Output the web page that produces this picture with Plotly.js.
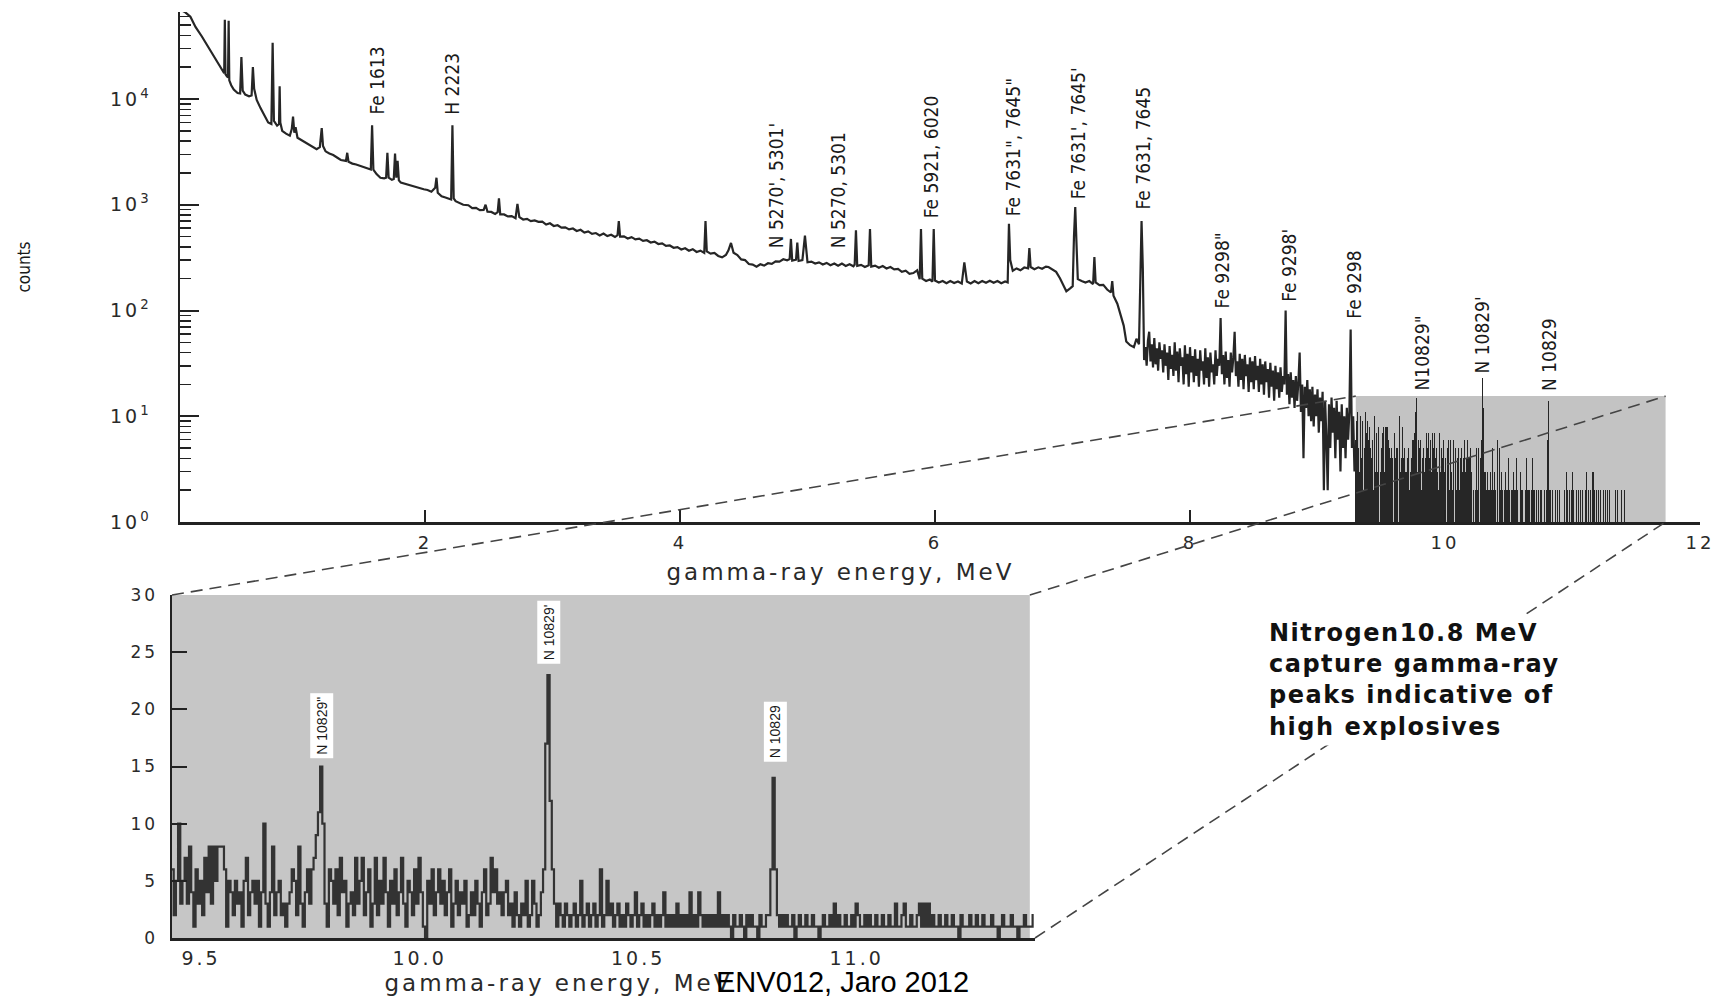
<!DOCTYPE html>
<html><head><meta charset="utf-8">
<script src="https://cdn.plot.ly/plotly-3.0.1.min.js"></script>
<style>
html,body{margin:0;padding:0;background:#fff;}
#chart{width:1735px;height:998px;}
.xtick text,.x2tick text,.ytick text,.y2tick text{letter-spacing:3px;}
g.annotation[data-index="0"] text{letter-spacing:1.5px;}
g.annotation[data-index="1"] text,g.annotation[data-index="2"] text{letter-spacing:3px;}
</style>
</head><body><div id="chart"></div>
<script>
// ---------- DATA ----------
// main spectrum, 0.08 - 7.64 MeV (energy MeV, counts)
const spectrumE = [0.08,0.12,0.16,0.20,0.25,0.30,0.35,0.40,0.42,0.425,0.43,0.435,0.445,0.455,0.46,0.465,0.48,0.50,0.53,0.55,0.56,0.57,0.59,0.62,0.64,0.65,0.66,0.68,0.71,0.74,0.77,0.795,0.805,0.815,0.84,0.855,0.86,0.865,0.88,0.91,0.94,0.955,0.965,0.975,0.985,1.00,1.03,1.06,1.09,1.12,1.15,1.175,1.19,1.20,1.22,1.25,1.28,1.31,1.34,1.38,1.39,1.40,1.43,1.46,1.49,1.52,1.555,1.575,1.585,1.595,1.62,1.65,1.68,1.695,1.705,1.715,1.74,1.755,1.765,1.775,1.785,1.795,1.81,1.84,1.87,1.90,1.93,1.96,1.99,2.02,2.05,2.08,2.09,2.10,2.13,2.16,2.19,2.205,2.215,2.225,2.24,2.27,2.30,
2.34,2.37,2.40,2.43,2.46,2.475,2.49,2.52,2.55,2.57,2.58,2.59,2.62,2.65,2.68,2.71,2.725,2.74,2.77,2.80,2.83,2.86,2.89,2.92,2.95,2.98,3.01,3.04,3.07,3.10,3.13,3.16,3.19,3.22,3.25,3.28,3.31,3.34,3.37,3.40,3.43,3.46,3.49,3.51,3.52,3.53,3.56,3.59,3.62,3.65,3.68,3.71,3.74,3.77,3.80,3.83,3.86,3.89,3.92,3.95,3.98,4.01,4.04,4.07,4.10,4.13,4.16,4.19,4.20,4.21,4.24,4.27,4.30,4.33,4.36,4.38,4.40,4.42,4.45,4.48,4.51,4.54,4.57,4.60,4.63,4.66,4.69,4.72,4.75,4.78,4.81,4.84,4.86,4.87,4.88,4.91,4.92,4.93,4.96,4.98,5.00,5.03,5.06,5.09,5.12,5.15,5.18,5.21,5.24,5.27,5.30,5.33,5.36,5.37,5.38,5.39,5.42,5.45,5.48,5.49,5.50,5.53,5.56,5.59,5.62,5.65,5.68,5.71,5.74,5.77,5.80,5.83,5.86,5.88,5.89,5.90,5.93,5.96,5.98,5.99,6.00,6.03,6.06,6.09,6.12,6.15,6.18,6.21,6.23,6.25,6.28,6.31,6.34,6.37,6.40,6.43,6.46,6.49,6.52,6.55,6.57,6.58,6.59,6.61,6.64,6.67,6.70,6.73,6.74,6.75,6.78,6.81,6.84,6.87,6.89,6.92,6.95,6.98,7.01,7.03,7.06,7.08,7.09,7.10,7.11,7.12,7.15,7.18,7.21,7.24,7.25,7.26,7.29,7.32,7.35,7.38,7.39,7.40,7.43,7.46,7.48,7.50,7.53,7.56,7.58,7.60,7.61,7.62,7.63,7.64];
const spectrumCounts = [70000,66000,60000,48000,39000,31000,24500,19500,17800,17500,56000,17200,16500,16000,55000,15000,13500,12300,11400,11300,25000,12000,11000,10600,10800,20000,12500,9800,8200,7000,6000,5800,34000,6200,5600,5800,13200,6000,5000,4700,4500,5200,6800,4800,5400,4300,4100,3900,3700,3550,3350,3500,5300,3600,3200,3050,2950,2800,2650,2600,3100,2550,2450,2400,2330,2250,2200,2150,5650,2150,1950,1800,1780,1800,3100,1800,1720,1750,3050,1800,2600,1700,1620,1580,1540,1500,1460,1440,1400,1380,1330,1450,1800,1300,1200,1170,1140,1120,5650,1150,1080,1040,1000,
990,930,935,890,895,1000,860,855,820,850,1150,810,810,775,780,745,1020,765,725,735,700,712,690,692,650,668,630,640,608,612,585,596,565,580,545,560,530,540,512,535,505,520,495,515,700,500,502,480,494,470,478,455,462,440,448,425,432,408,412,392,398,378,388,368,380,358,368,350,700,362,345,350,328,318,335,370,435,352,335,304,300,275,272,260,274,266,280,276,292,290,305,298,306,475,296,302,440,294,300,510,286,290,278,285,272,282,268,278,265,278,264,274,262,272,575,264,270,258,268,590,260,266,254,263,250,258,245,248,232,238,222,226,240,198,590,200,190,196,188,590,192,184,190,181,190,182,188,180,285,188,180,190,181,190,183,191,183,190,181,188,184,660,300,238,250,240,255,250,390,258,246,256,248,260,258,245,232,202,172,152,162,170,500,950,420,198,190,184,190,178,320,184,174,175,158,148,190,138,116,88,72,51,47,45,54,48,300,700,250,34];
// noisy tail, channels from 7.65 MeV every 0.01 MeV
const tailStart = 7.65, tailStep = 0.01;
const tailCounts = [45,30,52,63,33,48,29,55,31,44, 27,50,35,42,26,48,30,40,22,46, 28,38,24,50,27,41,21,44,30,36, 20,47,25,39,19,45,26,37,21,43,
 24,35,19,42,27,33,20,44,23,36, 19,40,26,31,20,42,24,35,30,85, 25,38,20,41,23,34,19,40,26,36, 63,24,33,19,39,22,35,18,38,24,
 31,17,36,21,33,18,37,22,30,17, 35,20,31,16,33,21,28,15,32,19, 27,14,30,18,26,15,29,17,24,20, 100,16,25,13,26,15,22,12,24,14,
 21,40,11,20,4,19,12,22,10,18, 9,19,8,16,10,18,7,15,9,17, 2,14,6,2,13,5,15,7,12,4, 14,6,11,3,13,5,10,4,12,6, 11,66,5,10,3];
// zoomed region, channels from 9.300 MeV every 0.005 MeV
const zoomStart = 9.30, zoomStep = 0.005;
const zoomCounts = [6,9,4,11,5,8,3,7,10,4,6,9,2,8,5,11,4,7,3,9,
 6,2,8,5,10,4,6,6,2,5,10,3,5,7,3,8,4,1,6,3,
 5,2,7,4,8,3,8,5,8,8,8,6,1,5,4,2,5,3,4,1,
 5,7,2,4,5,3,5,1,4,10,3,1,4,8,2,4,5,2,3,1,
 3,4,6,5,2,8,3,1,4,6,3,6,7,9,11,15,10,3,1,6,
 5,3,6,2,7,4,5,1,3,4,2,7,3,5,7,2,4,6,1,3,
 7,2,5,3,7,4,1,5,3,6,2,4,7,3,1,5,4,2,6,3,
 7,4,1,0,5,3,6,2,4,6,3,5,2,4,6,1,3,5,2,4,
 3,5,1,2,4,2,5,3,1,4,6,2,3,7,4,6,3,4,2,4,
 5,2,3,1,4,2,1,3,2,5,1,2,5,3,1,2,4,6,17,23,
 12,6,3,1,3,2,1,3,2,1,2,3,1,2,5,1,2,3,1,2,
 3,1,2,6,1,2,5,2,3,1,2,3,1,2,1,3,2,1,2,4,
 1,2,3,1,2,1,2,3,1,2,1,2,4,1,2,1,2,1,3,1,
 2,1,2,1,4,1,2,1,4,2,1,2,1,2,1,2,1,4,1,2,
 1,2,1,0,2,1,1,2,1,0,2,1,2,1,1,0,2,1,1,2,
 2,6,14,6,2,1,2,1,2,1,1,2,0,1,2,1,1,2,1,1,
 2,1,1,0,1,2,1,1,2,1,3,1,2,1,1,2,1,1,2,1,
 3,2,1,1,2,1,2,1,1,2,1,1,2,1,1,2,1,1,3,1,
 1,2,3,1,1,2,1,1,2,3,1,3,1,3,1,2,1,1,2,1,
 1,2,1,1,2,1,1,0,2,1,1,1,2,1,1,2,1,1,2,1,
 1,1,2,1,1,0,1,2,1,1,1,2,1,1,0,1,1,2,1,1,
 1,2];
// peak labels
const mainLabelText = ['Fe 1613','H 2223',"N 5270', 5301'",'N 5270, 5301','Fe 5921, 6020','Fe 7631", 7645"',"Fe 7631', 7645'",'Fe 7631, 7645','Fe 9298"',"Fe 9298'",'Fe 9298','N10829"',"N 10829'",'N 10829'];
const mainLabelE = [1.62,2.21,4.75,5.24,5.97,6.61,7.12,7.63,8.25,8.77,9.29,9.82,10.29,10.82];
const mainLabelBase = [6760,6760,372,372,708,741,1072,871,100,115,81,16.6,24.5,16.6];
const insetLabelText = ['N 10829"',"N 10829'",'N 10829'];
const insetLabelE = [9.775,10.295,10.815];
const insetLabelBase = [15.7,23.9,15.4];
const yTickVals = [1,10,100,1000,10000];
const yTickText = ['10<sup>0</sup>','10<sup>1</sup>','10<sup>2</sup>','10<sup>3</sup>','10<sup>4</sup>'];
const zoomWindow = {e0: 9.30, e1: 11.73, cBottom: 1, cTop: 15.5};

// ---------- BUILD ----------
const tailE = tailCounts.map((_, i) => +(tailStart + i * tailStep).toFixed(3));
const zoomE = zoomCounts.map((_, i) => +(zoomStart + i * zoomStep).toFixed(3));
const lineE = spectrumE.concat(tailE);
const lineC = spectrumCounts.concat(tailCounts);

const X1 = {dom: [180/1735, 1700/1735], range: [0.0784, 12]};
const Y1 = {dom: [1-522/998, 1-12/998], range: [0, 4.8227]};
const X2 = {dom: [172/1735, 1035/1735], range: [9.4336, 11.408]};
const Y2 = {dom: [1-938/998, 1-595/998], range: [0, 30]};
const insetBgRight = 0.994;

function px(ax, v) { return ax.dom[0] + (v - ax.range[0]) / (ax.range[1] - ax.range[0]) * (ax.dom[1] - ax.dom[0]); }

const ink = '#262626';
const traces = [
  {type: 'scatter', mode: 'lines', x: lineE, y: lineC, xaxis: 'x', yaxis: 'y',
   line: {color: ink, width: 2.2}, hoverinfo: 'skip'},
  {type: 'bar', x: zoomE, y: zoomCounts, xaxis: 'x', yaxis: 'y', width: 0.0068,
   marker: {color: ink, line: {width: 0}}, hoverinfo: 'skip'},
  {type: 'scatter', mode: 'lines', x: zoomE, y: zoomCounts, xaxis: 'x2', yaxis: 'y2',
   line: {color: '#333333', width: 2.2, shape: 'hvh'}, hoverinfo: 'skip'}
];

const narrow = 'Liberation Sans Narrow, DejaVu Sans Condensed, Liberation Sans, Arial, sans-serif';
const wide = 'DejaVu Sans, Verdana, sans-serif';

const annotations = [
  {text: 'Nitrogen10.8 MeV<br>capture gamma-ray<br>peaks indicative of<br>high explosives',
   xref: 'paper', yref: 'paper', x: 1264/1735, y: 1-614/998, xanchor: 'left', yanchor: 'top', align: 'left',
   showarrow: false, bgcolor: '#ffffff', borderpad: 4,
   font: {family: 'DejaVu Sans, Liberation Sans, sans-serif', size: 24, color: '#111', weight: 'bold'}},
  {text: 'gamma-ray energy, MeV', xref: 'paper', yref: 'paper', x: 840/1735, y: 1-572/998,
   xanchor: 'center', yanchor: 'middle', showarrow: false, font: {family: wide, size: 23, color: '#2a2a2a'}},
  {text: 'gamma-ray energy, MeV', xref: 'paper', yref: 'paper', x: 414/1735, y: 1-983/998,
   xanchor: 'left', yanchor: 'middle', showarrow: false, font: {family: wide, size: 23, color: '#2a2a2a'}},
  {text: 'ENV012, Jaro 2012', xref: 'paper', yref: 'paper', x: 842/1735, y: 1-982/998,
   xanchor: 'center', yanchor: 'middle', showarrow: false, font: {family: 'Liberation Sans, Arial, sans-serif', size: 29, color: '#000'}}
];
mainLabelText.forEach((t, i) => annotations.push({
  text: t, xref: 'x', yref: 'y', x: mainLabelE[i], y: Math.log10(mainLabelBase[i]),
  textangle: -90, xanchor: 'center', yanchor: 'bottom', showarrow: false,
  font: {family: narrow, size: 19, color: '#1a1a1a'}
}));
insetLabelText.forEach((t, i) => annotations.push({
  text: t, xref: 'x2', yref: 'y2', x: insetLabelE[i], y: insetLabelBase[i],
  textangle: -90, xanchor: 'center', yanchor: 'bottom', showarrow: false,
  bgcolor: '#ffffff', borderpad: 3,
  font: {family: 'Liberation Sans, Arial, sans-serif', size: 14, color: '#1a1a1a'}
}));

const rectLeft = px(X1, zoomWindow.e0), rectRight = px(X1, zoomWindow.e1);
const rectTop = px(Y1, Math.log10(zoomWindow.cTop)), rectBottom = px(Y1, Math.log10(zoomWindow.cBottom));
const insetL = X2.dom[0], insetR = X2.dom[1], insetBgR = X2.dom[0] + insetBgRight * (X2.dom[1] - X2.dom[0]);
const insetT = Y2.dom[1], insetB = Y2.dom[0];
const dashLine = {color: '#444', width: 1.6, dash: '12px,7px'};

const shapes = [
  {type: 'rect', xref: 'paper', yref: 'paper', x0: rectLeft, x1: rectRight, y0: rectBottom, y1: rectTop,
   fillcolor: '#c3c3c3', line: {width: 0}, layer: 'below'},
  {type: 'rect', xref: 'x2 domain', yref: 'y2 domain', x0: 0, x1: insetBgRight, y0: 0, y1: 1,
   fillcolor: '#c6c6c6', line: {width: 0}, layer: 'below'},
  {type: 'line', xref: 'paper', yref: 'paper', x0: insetL, y0: insetT, x1: rectLeft, y1: rectTop, line: dashLine, layer: 'above'},
  {type: 'line', xref: 'paper', yref: 'paper', x0: insetBgR, y0: insetT, x1: rectRight, y1: rectTop, line: dashLine, layer: 'above'},
  {type: 'line', xref: 'paper', yref: 'paper', x0: insetR, y0: insetB, x1: rectRight, y1: rectBottom, line: dashLine, layer: 'above'}
];

const tickFont = {family: wide, size: 18, color: '#2a2a2a'};
const layout = {
  width: 1735, height: 998, margin: {l: 0, r: 0, t: 0, b: 0},
  paper_bgcolor: '#ffffff', plot_bgcolor: 'rgba(0,0,0,0)', showlegend: false, bargap: 0,
  xaxis: {domain: X1.dom, range: X1.range, anchor: 'y', showgrid: false, zeroline: false,
    showline: true, linecolor: '#222', linewidth: 2.5, ticks: 'inside', ticklen: 12, tickwidth: 2, tickcolor: '#222',
    tickvals: [2,4,6,8,10,12], tickfont: tickFont, ticklabelstandoff: 3, automargin: false},
  yaxis: {domain: Y1.dom, type: 'log', range: Y1.range, anchor: 'x', showgrid: false, zeroline: false,
    showline: true, linecolor: '#222', linewidth: 2.5, ticks: 'inside', ticklen: 19, tickwidth: 2, tickcolor: '#222',
    tickvals: yTickVals, ticktext: yTickText, tickfont: {family: wide, size: 19, color: '#2a2a2a'}, ticklabelstandoff: 22,
    minor: {ticks: 'inside', ticklen: 11, tickwidth: 1.5, tickcolor: '#222', dtick: 'D1', showgrid: false},
    title: {text: 'counts', standoff: 75, font: {family: narrow, size: 17, color: '#1a1a1a'}}, automargin: false},
  xaxis2: {domain: X2.dom, range: X2.range, anchor: 'y2', showgrid: false, zeroline: false,
    showline: true, linecolor: '#222', linewidth: 2.5, ticks: '',
    tickvals: [9.5, 10, 10.5, 11], ticktext: ['9.5','10.0','10.5','11.0'], tickfont: {family: wide, size: 19, color: '#2a2a2a'},
    ticklabelstandoff: 2, automargin: false},
  yaxis2: {domain: Y2.dom, range: Y2.range, anchor: 'x2', showgrid: false, zeroline: false,
    showline: true, linecolor: '#222', linewidth: 2.5, ticks: 'inside', ticklen: 15, tickwidth: 2, tickcolor: '#222',
    tickvals: [0,5,10,15,20,25,30], tickfont: {family: wide, size: 17, color: '#2a2a2a'}, ticklabelstandoff: 8, automargin: false},
  shapes: shapes,
  annotations: annotations
};

Plotly.newPlot('chart', traces, layout, {displayModeBar: false, staticPlot: true});
</script></body></html>
